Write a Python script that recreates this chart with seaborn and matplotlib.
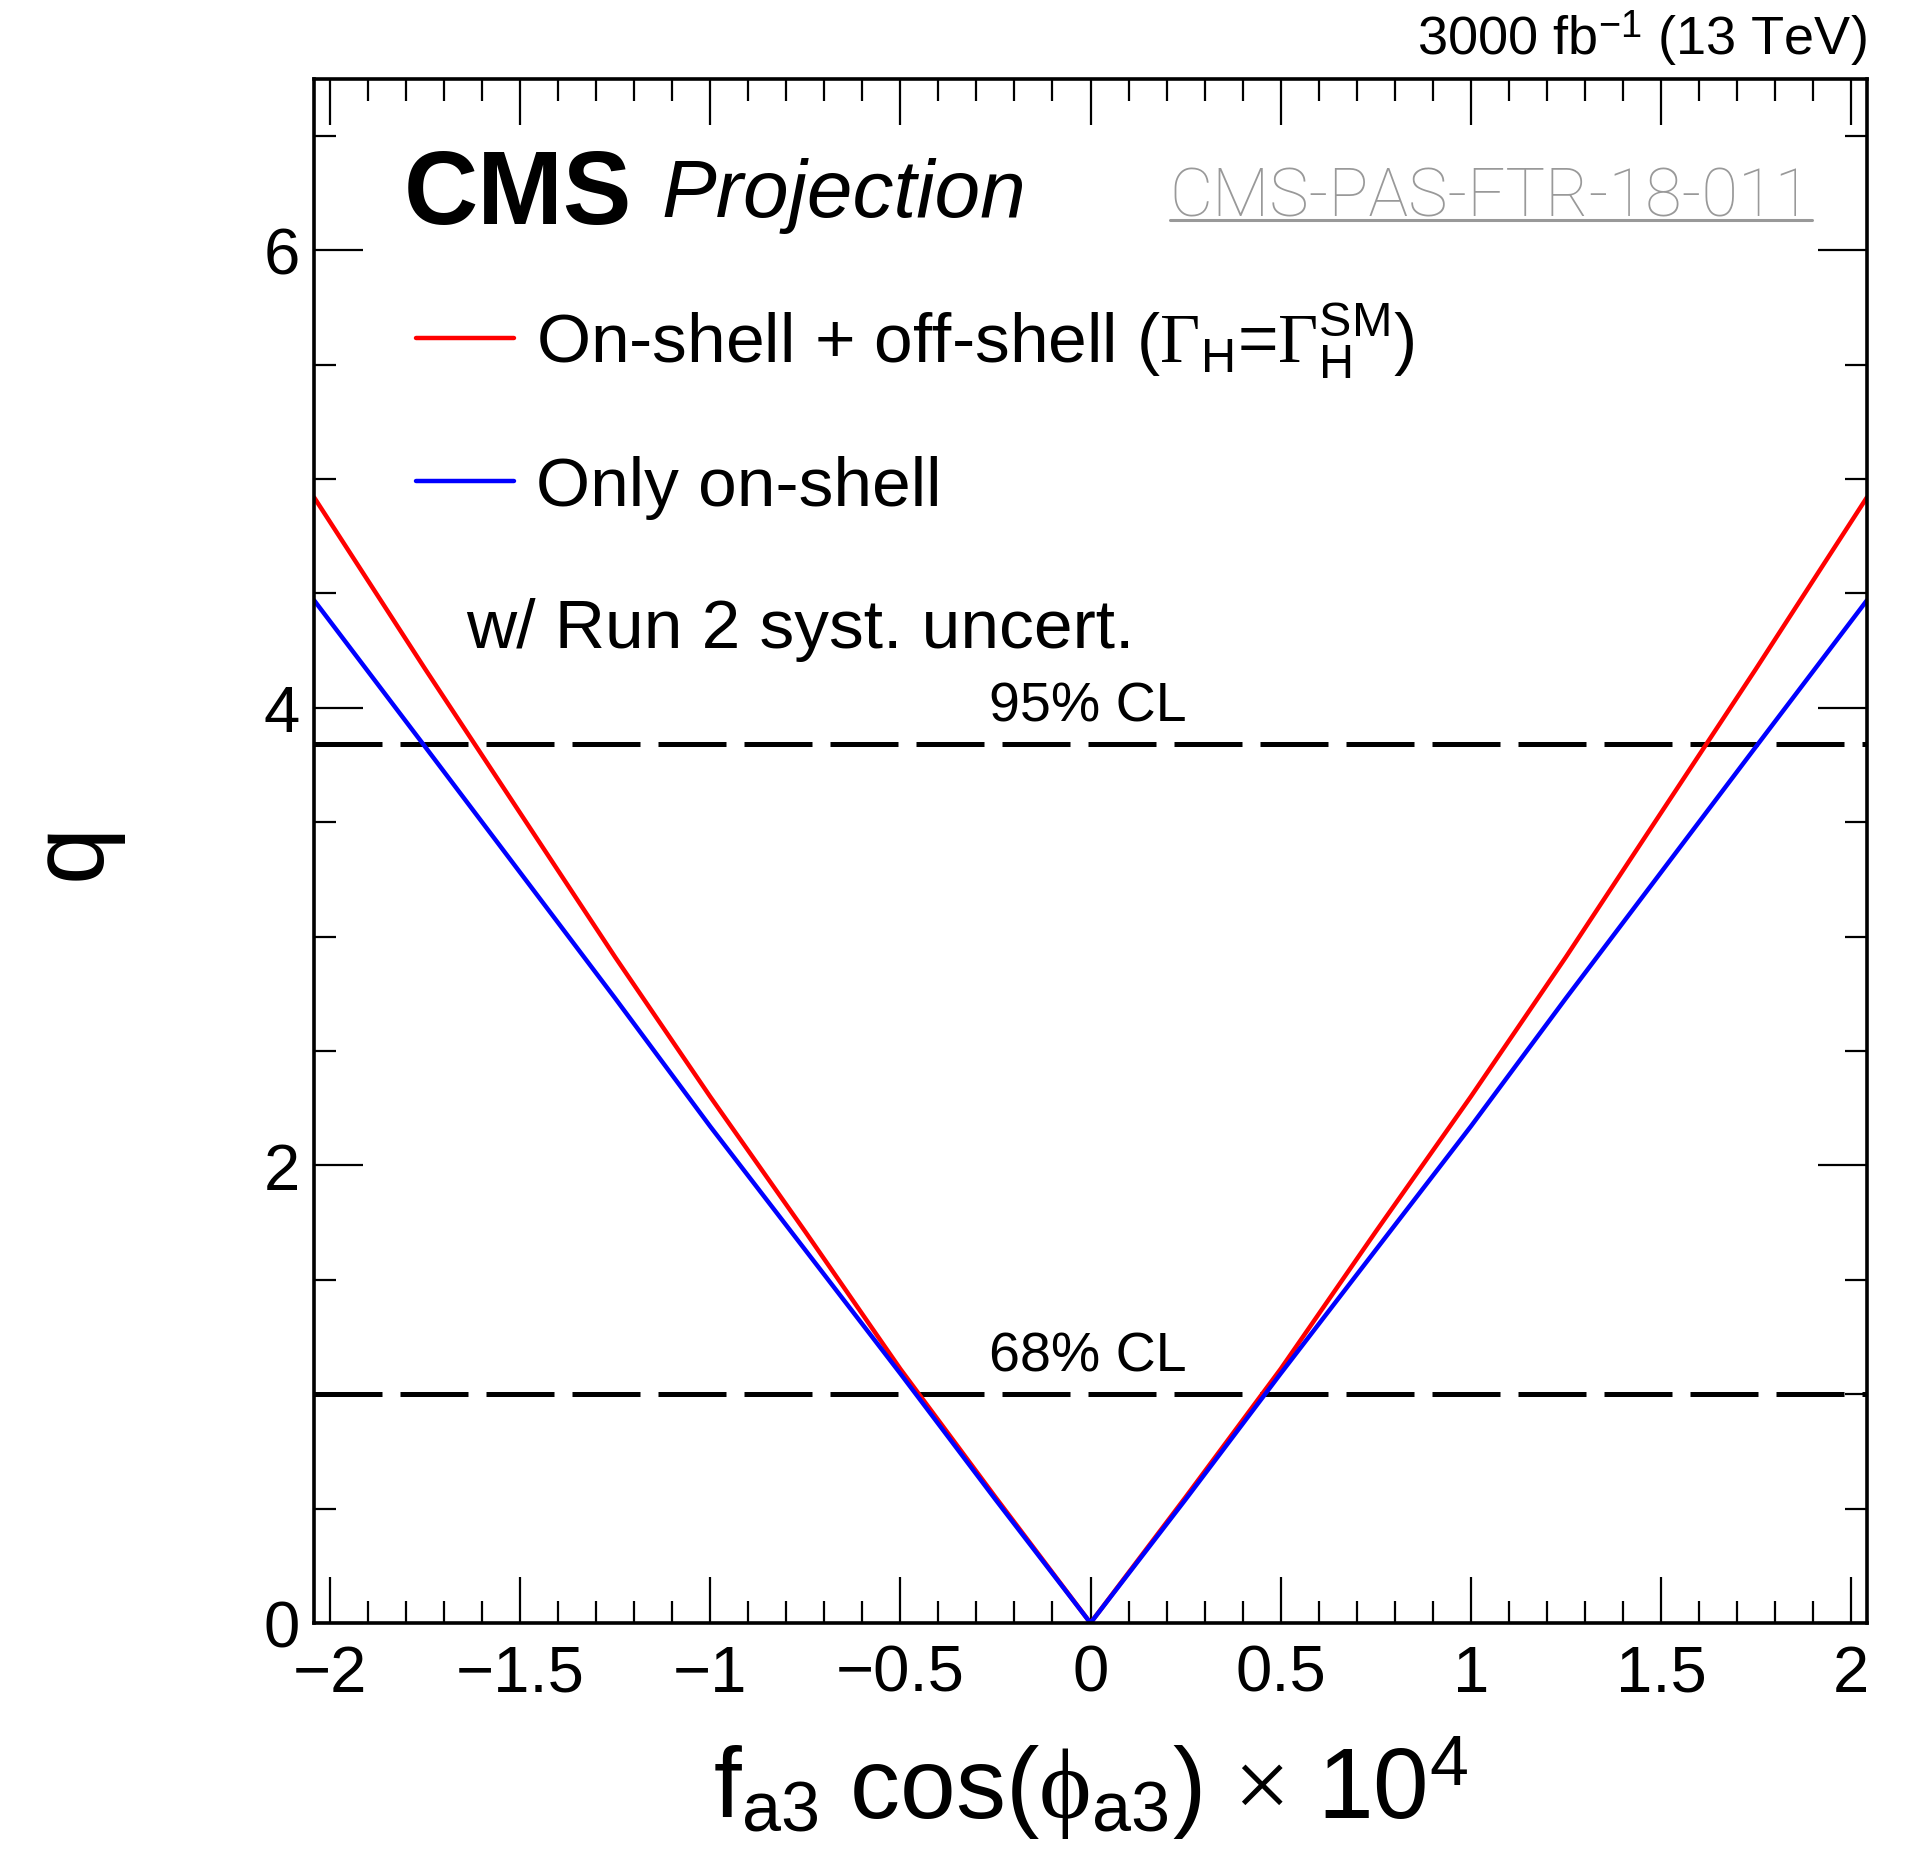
import numpy as np
import pandas as pd
import matplotlib
matplotlib.use("Agg")
import matplotlib.pyplot as plt
import seaborn as sns
from matplotlib.ticker import MultipleLocator
from matplotlib.lines import Line2D

# ---------------- data ----------------
x_vals = [-2.042, -1.75, -1.5, -1.25, -1.0, -0.75, -0.5, -0.25, 0.0,
          0.25, 0.5, 0.75, 1.0, 1.25, 1.5, 1.75, 2.042]
q_on_off = [4.92, 4.17, 3.54, 2.91, 2.30, 1.71, 1.11, 0.55, 0.0,
            0.55, 1.11, 1.71, 2.30, 2.91, 3.54, 4.17, 4.92]
q_on_only = [4.47, 3.83, 3.28, 2.73, 2.17, 1.63, 1.09, 0.54, 0.0,
             0.54, 1.09, 1.63, 2.17, 2.73, 3.28, 3.83, 4.47]
cl_levels = [3.84, 1.0]
cl_labels = ["95% CL", "68% CL"]
label_red = r"On-shell + off-shell ($\Gamma_{\mathsf{H}}$=$\Gamma_{\mathsf{H}}^{\mathsf{SM}}$)"
label_blue = "Only on-shell"
xticks = [-2, -1.5, -1, -0.5, 0, 0.5, 1, 1.5, 2]
yticks = [0, 2, 4, 6]

df = pd.DataFrame({
    "x": x_vals + x_vals,
    "q": q_on_off + q_on_only,
    "series": [label_red] * len(x_vals) + [label_blue] * len(x_vals),
})

# ---------------- style ----------------
sns.set_theme(style="ticks")
plt.rcParams["font.family"] = ["Liberation Sans", "DejaVu Sans"]
plt.rcParams["mathtext.fontset"] = "custom"
plt.rcParams["mathtext.rm"] = "Liberation Serif"
plt.rcParams["mathtext.it"] = "Liberation Serif:italic"
plt.rcParams["mathtext.sf"] = "Liberation Sans"
plt.rcParams["mathtext.bf"] = "Liberation Sans:bold"
plt.rcParams["axes.unicode_minus"] = True
for key in ["text.color", "axes.labelcolor", "xtick.color", "ytick.color",
            "axes.edgecolor", "xtick.labelcolor", "ytick.labelcolor"]:
    plt.rcParams[key] = "black"

fig = plt.figure(figsize=(19.17, 18.58), dpi=100)
ax = fig.add_axes([0.16380, 0.12594, 0.81012, 0.83127])

sns.lineplot(data=df, x="x", y="q", hue="series",
             hue_order=[label_red, label_blue],
             palette={label_red: "#ff0000", label_blue: "#0000ff"},
             linewidth=3.2, errorbar=None, ax=ax, legend=True)

for lev, lab in zip(cl_levels, cl_labels):
    ax.axhline(lev, color="black", lw=3.6, dashes=(13.6, 3.6), zorder=1)
    ax.text(-0.267, lev + 0.105, lab, fontsize=40, ha="left", va="baseline",
            color="black")

ax.set_xlim(-2.042, 2.042)
ax.set_ylim(0, 6.75)
ax.xaxis.set_major_locator(MultipleLocator(0.5))
ax.xaxis.set_minor_locator(MultipleLocator(0.1))
ax.yaxis.set_major_locator(MultipleLocator(2))
ax.yaxis.set_minor_locator(MultipleLocator(0.5))
ax.set_xticks(xticks)
ax.set_xticklabels([("\u2212" if v < 0 else "") + (f"{abs(v):g}") for v in xticks])
ax.set_yticks(yticks)
ax.set_yticklabels([f"{v:g}" for v in yticks])

ax.tick_params(which="both", direction="in", top=True, right=True,
               color="black", labelcolor="black", width=1.6)
ax.tick_params(which="major", length=33, labelsize=47, pad=15)
ax.tick_params(axis="y", which="major", length=35, pad=10)
ax.tick_params(which="minor", length=16)
for sp in ax.spines.values():
    sp.set_linewidth(2.6)
    sp.set_color("black")
    sp.set_zorder(5)

ax.set_xlabel(r"f$_{\mathsf{a3}}$ cos($\mathrm{\phi}_{\mathsf{a3}}$) $\times$ 10$^{\mathsf{4}}$",
              fontsize=72, va="baseline", color="black")
ax.xaxis.set_label_coords(0.5, -0.126)
ax.set_ylabel("q", fontsize=74, color="black")
ax.yaxis.set_label_coords(-0.124, 0.5)

# legend
handles, labels = ax.get_legend_handles_labels()
leg = ax.legend(handles, labels, loc="upper left", bbox_to_anchor=(0.0655, 0.8565),
                frameon=False, fontsize=50, handlelength=1.41, handletextpad=0.32,
                labelspacing=1.08, borderpad=0, borderaxespad=0, labelcolor="black")
for lh in leg.get_lines():
    lh.set_linewidth(3.2)

# annotations
ax.text(0.0977, 0.6319, "w/ Run 2 syst. uncert.", fontsize=50, color="black",
        transform=ax.transAxes, ha="left", va="baseline")
ax.text(0.0576, 0.9066, "CMS", fontsize=74, fontweight="bold", color="black",
        transform=ax.transAxes, ha="left", va="baseline")
ax.text(0.2236, 0.911, "Projection", fontsize=59, fontstyle="italic", color="black",
        transform=ax.transAxes, ha="left", va="baseline")
pas = ax.text(0.9646, 0.9116, "CMS-PAS-FTR-18-011", fontsize=48, color="#999999",
              family=["Roboto", "Liberation Sans"], fontweight="light",
              transform=ax.transAxes, ha="right", va="baseline")
fig.text(0.9739, 0.9704, r"3000 fb$^{\mathsf{-1}}$ (13 TeV)", fontsize=39,
         ha="right", va="baseline", color="black")

# underline for the PAS reference
fig.canvas.draw()
bb = pas.get_window_extent()
ybase = ax.transAxes.transform((0.9646, 0.9116))[1] - 5
inv = fig.transFigure.inverted()
(x0, y0) = inv.transform((bb.x0, ybase))
(x1, _) = inv.transform((bb.x1, ybase))
fig.add_artist(Line2D([x0, x1], [y0, y0], transform=fig.transFigure,
                      color="#999999", lw=2.2))

fig.savefig("out.png", dpi=100)
